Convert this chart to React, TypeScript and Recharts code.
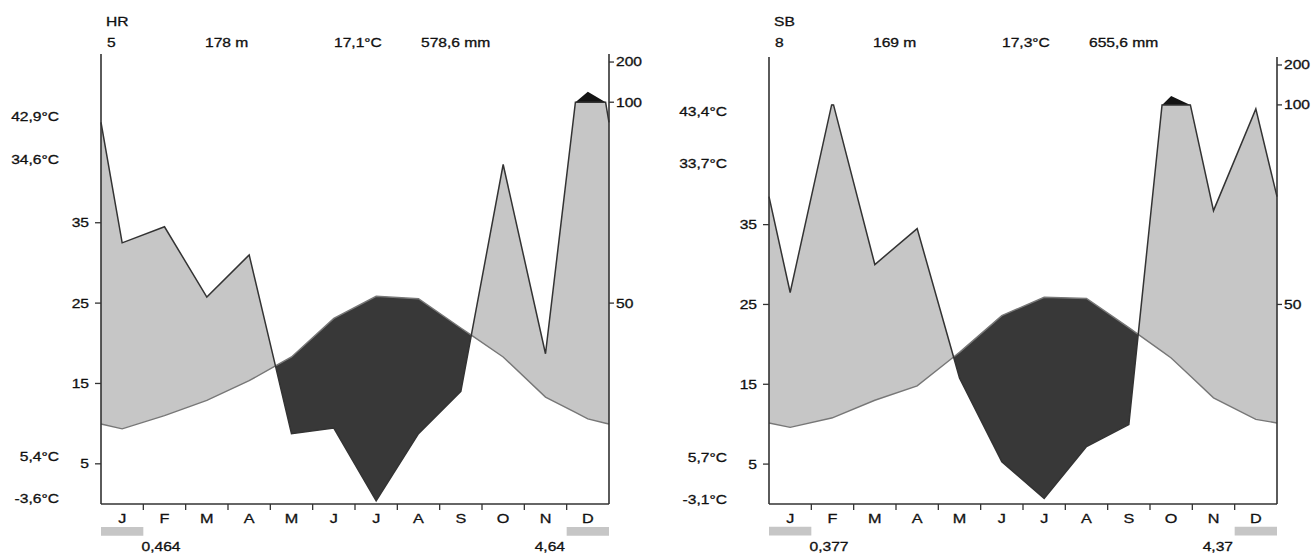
import {
  Area,
  ComposedChart,
  Line,
  ReferenceArea,
  ReferenceLine,
  XAxis,
  YAxis,
} from "recharts";

const MONTHS = ["J", "F", "M", "A", "M", "J", "J", "A", "S", "O", "N", "D"];
const TEMP_TICKS = [5, 15, 25, 35];
const PRECIP_TICKS_MM = [50, 100, 200];
const FROST_MONTHS = [0, 11];

// station HR
const hrTemp = [9.35, 11.0, 12.9, 15.35, 18.3, 23.1, 25.85, 25.55, 21.9, 18.3, 13.3, 10.6];
const hrPrecip = [65, 69, 51.5, 62, 17.5, 18.9, 0.8, 17.5, 28, 84.5, 37.4, 126];
const hrEdge = [9.95, 95]; // temp, precip at the Dec/Jan boundary
const hrInfo = ["HR", "5", "178 m", "17,1°C", "578,6 mm"];
const hrExtremes = ["42,9°C", "34,6°C", "5,4°C", "-3,6°C"];
const hrFrost = ["0,464", "4,64"];

// station SB
const sbTemp = [9.6, 10.8, 13.0, 14.8, 19.0, 23.6, 25.9, 25.75, 22.1, 18.3, 13.3, 10.6];
const sbPrecip = [53, 101, 60, 69, 31.6, 10.6, 1.4, 14.4, 19.9, 122, 73.5, 99];
const sbEdge = [10.15, 77];
const sbInfo = ["SB", "8", "169 m", "17,3°C", "655,6 mm"];
const sbExtremes = ["43,4°C", "33,7°C", "5,7°C", "-3,1°C"];
const sbFrost = ["0,377", "4,37"];

const FONT = "'Liberation Sans', Arial, sans-serif";
const AXIS = "#333";
const INK = "#111";

// Walter-Lieth scale: 20 mm = 10 °C, reduced 1/10 above 100 mm
const mmToScale = (mm: number) => (mm <= 100 ? mm / 2 : 50 + (mm - 100) / 20);

type Pt = { x: number; t: number; p: number };

function buildRows(temp: number[], precip: number[], edge: number[]) {
  const pts: Pt[] = [
    { x: 0, t: edge[0], p: edge[1] },
    ...temp.map((t, i) => ({ x: i + 0.5, t, p: precip[i] })),
    { x: 12, t: edge[0], p: edge[1] },
  ];
  const out: Pt[] = [];
  for (let i = 0; i < pts.length; i++) {
    const a = pts[i];
    out.push(a);
    if (i === pts.length - 1) break;
    const b = pts[i + 1];
    // add the points where the curves cross so the fills close cleanly
    const fs: number[] = [];
    const d0 = a.p / 2 - a.t;
    const d1 = b.p / 2 - b.t;
    if (d0 * d1 < 0) fs.push(d0 / (d0 - d1));
    if ((a.p - 100) * (b.p - 100) < 0) fs.push((100 - a.p) / (b.p - a.p));
    fs.sort((m, n) => m - n).forEach((f) =>
      out.push({
        x: a.x + f * (b.x - a.x),
        t: a.t + f * (b.t - a.t),
        p: a.p + f * (b.p - a.p),
      }),
    );
  }
  return out.map((r) => {
    const ps = Math.min(r.p / 2, 50);
    return {
      x: r.x,
      temp: r.t,
      precip: ps,
      humid: [r.t, Math.max(r.t, ps)],
      arid: [Math.min(r.t, ps), r.t],
      wet: [50, r.p > 100 ? mmToScale(r.p) : 50],
    };
  });
}

function Txt({
  x,
  y,
  anchor = "start",
  size = 12.5,
  stretch = 1.25,
  children,
}: {
  x: number;
  y: number;
  anchor?: "start" | "middle" | "end";
  size?: number;
  stretch?: number;
  children: string;
}) {
  return (
    <text
      transform={`translate(${x},${y}) scale(${stretch},1)`}
      textAnchor={anchor}
      dominantBaseline="central"
      fontSize={size}
      fontFamily={FONT}
      fill={INK}
      stroke={INK}
      strokeWidth={0.3}
    >
      {children}
    </text>
  );
}

type PanelProps = {
  left: number;
  top: number;
  temp: number[];
  precip: number[];
  edge: number[];
  info: string[];
  extremes: string[];
  extremeY: number[];
  frost: string[];
};

function Panel({ left, top, temp, precip, edge, info, extremes, extremeY, frost }: PanelProps) {
  const rows = buildRows(temp, precip, edge);
  const infoX = [107, 205, 334, 421];

  return (
    <div style={{ position: "absolute", left, top: 0, width: 645, height: 557 }}>
      <ComposedChart
        width={645}
        height={557}
        data={rows}
        margin={{ top, right: 0, bottom: 0, left: 1 }}
      >
        <XAxis
          dataKey="x"
          type="number"
          domain={[0, 12]}
          ticks={MONTHS.map((_, i) => i + 0.5)}
          height={53}
          tickSize={0}
          tickMargin={0}
          tickLine={false}
          axisLine={{ stroke: AXIS, strokeWidth: 1.6 }}
          tick={({ x, y, payload }: any) => (
            <Txt x={x} y={y + 14.5} anchor="middle" size={13.5} stretch={1.2}>
              {MONTHS[Math.floor(payload.value)]}
            </Txt>
          )}
        />
        <YAxis
          yAxisId="t"
          domain={[0, 56]}
          allowDataOverflow
          ticks={TEMP_TICKS}
          width={100}
          tickSize={6}
          tickMargin={0}
          axisLine={{ stroke: AXIS, strokeWidth: 1.6 }}
          tickLine={{ stroke: AXIS, strokeWidth: 1.3 }}
          tick={({ x, y, payload }: any) => (
            <Txt x={x - 6} y={y} anchor="end">
              {String(payload.value)}
            </Txt>
          )}
        />
        <YAxis
          yAxisId="p"
          orientation="right"
          domain={[0, 56]}
          allowDataOverflow
          ticks={PRECIP_TICKS_MM.map(mmToScale)}
          width={36}
          tickSize={5}
          tickMargin={0}
          axisLine={{ stroke: AXIS, strokeWidth: 1.6 }}
          tickLine={{ stroke: AXIS, strokeWidth: 1.3 }}
          tick={({ x, y, index }: any) => (
            <Txt x={x + 2} y={y}>
              {String(PRECIP_TICKS_MM[index])}
            </Txt>
          )}
        />

        <Area
          yAxisId="t"
          dataKey="humid"
          type="linear"
          stroke="none"
          fill="#c6c6c6"
          fillOpacity={1}
          isAnimationActive={false}
        />
        <Area
          yAxisId="t"
          dataKey="arid"
          type="linear"
          stroke="none"
          fill="#383838"
          fillOpacity={1}
          isAnimationActive={false}
        />
        <Area
          yAxisId="t"
          dataKey="wet"
          type="linear"
          stroke="none"
          fill="#141414"
          fillOpacity={1}
          isAnimationActive={false}
        />
        <Line
          yAxisId="t"
          dataKey="temp"
          type="linear"
          stroke="#777"
          strokeWidth={1.4}
          dot={false}
          isAnimationActive={false}
        />
        <Line
          yAxisId="t"
          dataKey="precip"
          type="linear"
          stroke="#333"
          strokeWidth={1.5}
          dot={false}
          isAnimationActive={false}
        />

        {MONTHS.slice(1).map((_, i) => (
          <ReferenceLine
            key={i}
            yAxisId="t"
            segment={[
              { x: i + 1, y: 0 },
              { x: i + 1, y: -0.75 },
            ]}
            stroke={AXIS}
            strokeWidth={1.3}
            ifOverflow="visible"
          />
        ))}
        {FROST_MONTHS.map((m) => (
          <ReferenceArea
            key={m}
            yAxisId="t"
            x1={m}
            x2={m + 1}
            y1={-2.85}
            y2={-3.95}
            fill="#c6c6c6"
            fillOpacity={1}
            stroke="none"
            ifOverflow="visible"
          />
        ))}
      </ComposedChart>

      <svg
        width={645}
        height={557}
        style={{ position: "absolute", left: 0, top: 0, pointerEvents: "none" }}
      >
        <Txt x={106} y={21.7}>{info[0]}</Txt>
        {info.slice(1).map((s, i) => (
          <Txt key={s} x={infoX[i]} y={42.7}>
            {s}
          </Txt>
        ))}
        {extremes.map((s, i) => (
          <Txt key={s} x={59} y={extremeY[i]} anchor="end">
            {s}
          </Txt>
        ))}
        <Txt x={141.5} y={547}>{frost[0]}</Txt>
        <Txt x={565} y={547} anchor="end">
          {frost[1]}
        </Txt>
      </svg>
    </div>
  );
}

export default function App() {
  return (
    <div
      style={{
        position: "absolute",
        left: 0,
        top: 0,
        width: 1313,
        height: 557,
        overflow: "hidden",
        background: "#fff",
      }}
    >
      <Panel
        left={0}
        top={54}
        temp={hrTemp}
        precip={hrPrecip}
        edge={hrEdge}
        info={hrInfo}
        extremes={hrExtremes}
        extremeY={[116.7, 159.3, 456.7, 498.3]}
        frost={hrFrost}
      />
      <Panel
        left={668}
        top={57}
        temp={sbTemp}
        precip={sbPrecip}
        edge={sbEdge}
        info={sbInfo}
        extremes={sbExtremes}
        extremeY={[111.7, 163.3, 457.7, 499.3]}
        frost={sbFrost}
      />
    </div>
  );
}
